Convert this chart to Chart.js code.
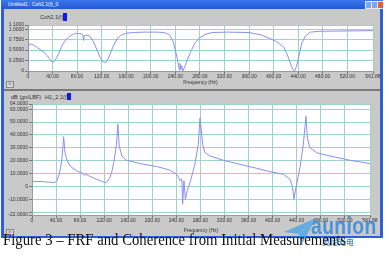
<!DOCTYPE html>
<html>
<head>
<meta charset="utf-8">
<script src="https://cdn.jsdelivr.net/npm/chart.js@4"></script>
<style>
  body { margin: 0; width: 389px; height: 258px; background: #fff; position: relative; overflow: hidden;
         font-family: "Liberation Sans", Arial, sans-serif; }
  .abs { position: absolute; }
  #win { left: 1px; top: 0; width: 382px; height: 238px; background: #2c5fd8; }
  #titlebar { left: 1px; top: 0; width: 382px; height: 9px;
              background: linear-gradient(#3b78ee, #2458d4); }
  #titletxt { left: 8px; top: 1px; font-size: 5px; color: #fff; white-space: nowrap; }
  .tbtn { top: 1px; width: 5px; height: 6px; background: #7aa6f2; border: 0.5px solid #dfe8fb; }
  #panelTop { left: 4px; top: 9px; width: 376px; height: 80px; background: #c9c9c9; }
  #divider  { left: 4px; top: 89px; width: 376px; height: 2px; background: #7a7a7a; }
  #panelBot { left: 4px; top: 91px; width: 376px; height: 145px; background: #c9c9c9; }
  .hdr { font-size: 5.6px; color: #333; white-space: nowrap; }
  .swatch { background: #1515e8; }
  .lin { width: 6px; height: 5px; background: #d8d8d8; border: 0.5px solid #888; font-size: 3px; color: #555;
         line-height: 5px; text-align: center; }
  canvas { position: absolute; }
  #caption { left: 3px; top: 230px; font-family: "Liberation Serif", "Times New Roman", serif; font-size: 16.5px;
             color: #111; white-space: nowrap; transform-origin: left top; }
  #wm1 { left: 311px; top: 212px; font-size: 24px; font-weight: bold; color: rgba(52,138,222,0.85);
         white-space: nowrap; transform-origin: left top; letter-spacing: 0.5px; }
  #wm2 { left: 322px; top: 236px; font-size: 8px; font-weight: bold; color: rgba(52,138,222,0.85);
         font-family: "Noto Sans CJK SC", sans-serif; white-space: nowrap; }
</style>
</head>
<body>
<div id="win" class="abs"></div>
<div id="titlebar" class="abs"></div>
<div id="titletxt" class="abs">Untitled1 : Coh2,1(f)_0</div>
<div class="abs tbtn" style="left:365px"></div>
<div class="abs tbtn" style="left:371px"></div>
<div class="abs tbtn" style="left:377px;background:#e0603a"></div>
<div id="panelTop" class="abs"></div>
<div id="divider" class="abs"></div>
<div id="panelBot" class="abs"></div>

<div class="abs hdr" style="left:40px;top:14px">Coh2,1(f)</div>
<div class="abs swatch" style="left:63px;top:13px;width:4px;height:8px"></div>
<div class="abs hdr" style="left:11px;top:94px">dB (gn/LBF)</div>
<div class="abs hdr" style="left:45px;top:94px">H1_2,1(f)</div>
<div class="abs swatch" style="left:67px;top:93px;width:4px;height:7px"></div>
<div class="abs lin" style="left:6px;top:81px">lin</div>
<div class="abs lin" style="left:6px;top:229px">lin</div>

<canvas id="cohChart" width="389" height="70" style="left:0;top:20px"></canvas>
<canvas id="frfChart" width="389" height="141" style="left:0;top:95px"></canvas>

<svg class="abs" style="left:280px;top:214px" width="40" height="34">
  <polygon points="4,18 36,4 22,30 19,20" fill="rgba(70,160,230,0.75)"/>
  <polygon points="19,20 36,4 14,26" fill="rgba(120,190,240,0.7)"/>
</svg>
<div id="wm1" class="abs">aunion</div>
<div id="wm2" class="abs">奥尼光电</div>
<div id="caption" class="abs">Figure 3 – FRF and Coherence from Initial Measurements</div>

<script>
// ── Data ──────────────────────────────────────────────────────────────────
const freqTicks = [0, 40, 80, 120, 160, 200, 240, 280, 320, 360, 400, 440, 480, 520, 561.88];

// Coherence Coh2,1(f)
const cohFreq = [0, 0.5, 3.5, 8, 14, 20, 26, 31, 35, 39, 42, 46, 50, 54, 58, 63, 68, 74, 79, 86,
  89.5, 90.5, 91.5, 96, 101, 106, 112, 117, 121, 125, 129, 134, 139, 145, 152, 159, 170, 190, 210,
  222, 230, 236, 240, 243, 245, 246.5, 247.5, 249, 250.5, 252, 255, 259, 264, 272, 280, 290, 300,
  325, 360, 380, 395, 405, 416, 422, 427, 431, 434, 437, 441, 446, 452, 460, 475, 500, 530, 561.88];
const cohVals = [0, 0.58, 0.65, 0.63, 0.57, 0.51, 0.45, 0.37, 0.29, 0.22, 0.22, 0.30, 0.42, 0.56,
  0.68, 0.77, 0.83, 0.88, 0.90, 0.89, 0.86, 0.73, 0.84, 0.86, 0.83, 0.72, 0.52, 0.34, 0.24, 0.20,
  0.24, 0.42, 0.60, 0.77, 0.86, 0.90, 0.92, 0.93, 0.93, 0.92, 0.87, 0.72, 0.50, 0.30, 0.15, 0.02,
  0.18, 0.04, 0.12, 0.0, 0.08, 0.25, 0.43, 0.67, 0.80, 0.88, 0.92, 0.93, 0.92, 0.86, 0.77, 0.70,
  0.58, 0.40, 0.20, 0.04, 0.0, 0.10, 0.35, 0.67, 0.84, 0.93, 0.95, 0.955, 0.96, 0.965];
const cohTicks = [0, 0.25, 0.5, 0.75, 1.0, 1.1];

// FRF H1_2,1(f), dB
const frfFreq = [0, 0.5, 5, 10, 15, 22, 30, 38, 42, 45.4, 48, 50, 52.6, 54.8, 57.6, 63, 74, 85, 87,
  89, 95, 107, 115, 122.8, 126, 129.5, 133, 136, 140.5, 142.7, 145, 149.4, 157, 179, 207, 229, 240,
  244, 246, 249, 250.4, 252.6, 254.9, 258, 263.6, 270.8, 276.4, 279.3, 283.7, 287.6, 295.9, 318,
  345.7, 373.4, 395.6, 417.8, 428.9, 433.3, 435.5, 438.8, 445.5, 451, 455.5, 457.7, 462, 473,
  495.3, 528.5, 561.88];
const frfVals = [0, 4.2, 4.0, 3.8, 4.1, 3.6, 3.4, 3.2, 5.0, 9.8, 16, 22.7, 38.6, 26.5, 21.3, 16,
  12.2, 10.2, 8.8, 9.6, 8.2, 5.8, 4.2, 3.0, 4.2, 7.1, 12, 18.7, 32.7, 48.6, 31.5, 23.8, 20.5, 17.9,
  15.6, 12.8, 9.7, 7.0, 4.6, 5.9, -13.6, 4.6, -9.8, -3.4, 4.6, 17.4, 32.7, 53.2, 32.7, 26.3, 23.7,
  20.4, 17.3, 14.2, 11.6, 9.6, 5.7, -0.7, -9.7, -0.7, 14.7, 32.7, 54.5, 37.8, 30.1, 26.3, 23.7,
  20.4, 17.8];
const frfTicks = [-22, -20, -10, 0, 10, 20, 30, 40, 50, 60, 64];

// ── Chart helpers ─────────────────────────────────────────────────────────
const plotBg = {
  id: 'plotBg',
  beforeDraw(chart) {
    const { ctx, chartArea: a } = chart;
    ctx.save();
    ctx.fillStyle = '#ffffff';
    ctx.fillRect(a.left, a.top, a.width, a.height);
    ctx.restore();
  }
};

const tickFont = { family: '"Liberation Sans", Arial, sans-serif', size: 5 };

function makeChart(id, xs, ys, yTicks, yFmt, dims) {
  const pts = xs.map((x, i) => ({ x, y: ys[i] }));
  return new Chart(document.getElementById(id), {
    type: 'line',
    data: { datasets: [{ data: pts, borderColor: '#8b8ff0', borderWidth: 1, pointRadius: 0, tension: 0 }] },
    plugins: [plotBg],
    options: {
      responsive: false,
      animation: false,
      devicePixelRatio: 1,
      layout: { padding: { left: 0, top: dims.top, right: dims.right, bottom: 0 } },
      plugins: { legend: { display: false }, tooltip: { enabled: false } },
      scales: {
        x: {
          type: 'linear', min: 0, max: 561.88,
          afterBuildTicks: s => { s.ticks = freqTicks.map(v => ({ value: v })); },
          afterFit: s => { s.height = dims.xh; },
          ticks: { autoSkip: false, maxRotation: 0, padding: 0, color: '#333', font: tickFont,
                   callback: v => v === 0 ? '0' : v.toFixed(2) },
          grid: { color: '#9fd2c9', tickColor: '#777', tickLength: 3 },
          border: { color: '#9a9a9a' },
          title: { display: true, text: 'Frequency (Hz)', color: '#333', font: tickFont,
                   padding: { top: 0, bottom: dims.titlePad } }
        },
        y: {
          type: 'linear', min: yTicks[0], max: yTicks[yTicks.length - 1],
          afterBuildTicks: s => { s.ticks = yTicks.map(v => ({ value: v })); },
          afterFit: s => { s.width = dims.yw; },
          ticks: { autoSkip: false, padding: 1, color: '#333', font: tickFont, callback: yFmt },
          grid: { color: '#9fd2c9', tickColor: '#777', tickLength: 3 },
          border: { color: '#9a9a9a' }
        }
      }
    }
  });
}

makeChart('cohChart', cohFreq, cohVals, cohTicks,
  v => v === 0 ? '0' : v.toFixed(4),
  { top: 5, right: 16, xh: 19, yw: 28, titlePad: 4 });

makeChart('frfChart', frfFreq, frfVals, frfTicks,
  v => v === 0 ? '0' : (v === -20 ? '' : v.toFixed(4)),
  { top: 9, right: 19, xh: 21, yw: 32, titlePad: 2.4 });

// stretch caption / watermark to the widths seen in the figure
const cap = document.getElementById('caption');
cap.style.transform = 'scaleX(' + (343 / cap.offsetWidth) + ')';
const wm = document.getElementById('wm1');
wm.style.transform = 'scaleX(' + (66 / wm.offsetWidth) + ')';
</script>
</body>
</html>
